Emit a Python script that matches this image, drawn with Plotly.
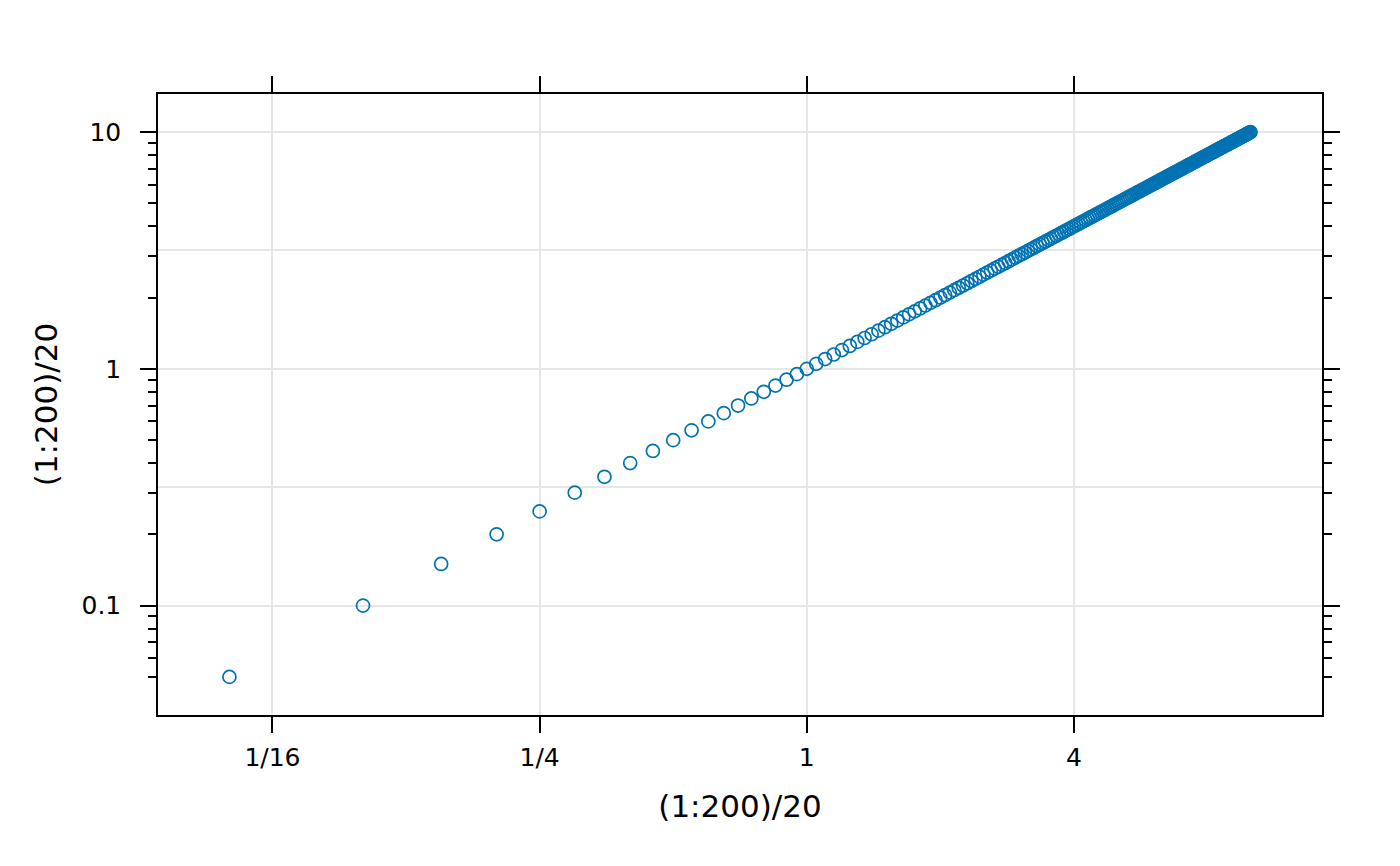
import plotly.graph_objects as go

# (1:200)/20 on both axes
x_vals = [
    0.05, 0.1, 0.15, 0.2, 0.25, 0.3, 0.35, 0.4, 0.45, 0.5, 0.55, 0.6, 0.65, 0.7, 0.75, 0.8, 0.85, 0.9, 0.95, 1.0,
    1.05, 1.1, 1.15, 1.2, 1.25, 1.3, 1.35, 1.4, 1.45, 1.5, 1.55, 1.6, 1.65, 1.7, 1.75, 1.8, 1.85, 1.9, 1.95, 2.0,
    2.05, 2.1, 2.15, 2.2, 2.25, 2.3, 2.35, 2.4, 2.45, 2.5, 2.55, 2.6, 2.65, 2.7, 2.75, 2.8, 2.85, 2.9, 2.95, 3.0,
    3.05, 3.1, 3.15, 3.2, 3.25, 3.3, 3.35, 3.4, 3.45, 3.5, 3.55, 3.6, 3.65, 3.7, 3.75, 3.8, 3.85, 3.9, 3.95, 4.0,
    4.05, 4.1, 4.15, 4.2, 4.25, 4.3, 4.35, 4.4, 4.45, 4.5, 4.55, 4.6, 4.65, 4.7, 4.75, 4.8, 4.85, 4.9, 4.95, 5.0,
    5.05, 5.1, 5.15, 5.2, 5.25, 5.3, 5.35, 5.4, 5.45, 5.5, 5.55, 5.6, 5.65, 5.7, 5.75, 5.8, 5.85, 5.9, 5.95, 6.0,
    6.05, 6.1, 6.15, 6.2, 6.25, 6.3, 6.35, 6.4, 6.45, 6.5, 6.55, 6.6, 6.65, 6.7, 6.75, 6.8, 6.85, 6.9, 6.95, 7.0,
    7.05, 7.1, 7.15, 7.2, 7.25, 7.3, 7.35, 7.4, 7.45, 7.5, 7.55, 7.6, 7.65, 7.7, 7.75, 7.8, 7.85, 7.9, 7.95, 8.0,
    8.05, 8.1, 8.15, 8.2, 8.25, 8.3, 8.35, 8.4, 8.45, 8.5, 8.55, 8.6, 8.65, 8.7, 8.75, 8.8, 8.85, 8.9, 8.95, 9.0,
    9.05, 9.1, 9.15, 9.2, 9.25, 9.3, 9.35, 9.4, 9.45, 9.5, 9.55, 9.6, 9.65, 9.7, 9.75, 9.8, 9.85, 9.9, 9.95, 10.0,
]
y_vals = list(x_vals)

x_tickvals = [1 / 16, 1 / 4, 1, 4]
x_ticktext = ["1/16", "1/4", "1", "4"]
y_tickvals = [0.1, 1, 10]
y_ticktext = ["0.1", "1", "10"]
y_minor_ticks = [0.05, 0.06, 0.07, 0.08, 0.09,
                 0.2, 0.3, 0.4, 0.5, 0.6, 0.7, 0.8, 0.9,
                 2, 3, 4, 5, 6, 7, 8, 9]
y_half_decades = [0.31623, 3.1623]

axis_range = [-1.462, 1.161]
grid_col = "#e6e6e6"
font_family = "DejaVu Sans"

fig = go.Figure()
fig.add_trace(go.Scatter(
    x=x_vals, y=y_vals, mode="markers",
    marker=dict(symbol="circle-open", size=13, color="#0072B2",
                line=dict(width=1.7, color="#0072B2")),
    showlegend=False, hoverinfo="x+y",
))
# invisible trace on the overlay axis that carries the minor y ticks
fig.add_trace(go.Scatter(
    x=[x_vals[0]], y=[y_vals[0]], yaxis="y2", mode="markers",
    marker=dict(opacity=0), showlegend=False, hoverinfo="skip",
))

fig.update_layout(
    width=1400, height=866,
    margin=dict(l=150, r=86, t=86, b=159),
    paper_bgcolor="white", plot_bgcolor="white",
    font=dict(family=font_family, color="black"),
    xaxis=dict(
        type="log", range=axis_range,
        tickmode="array", tickvals=x_tickvals, ticktext=x_ticktext,
        ticks="outside", ticklen=16, tickwidth=1.5, tickcolor="black",
        showline=True, linecolor="black", linewidth=1.5, mirror="ticks",
        showgrid=True, gridcolor=grid_col, gridwidth=1.5, zeroline=False,
        tickfont=dict(size=25), ticklabelstandoff=3,
        title=dict(text="(1:200)/20", font=dict(size=31), standoff=25),
    ),
    yaxis=dict(
        type="log", range=axis_range,
        tickmode="array", tickvals=y_tickvals, ticktext=y_ticktext,
        ticks="outside", ticklen=16, tickwidth=1.5, tickcolor="black",
        showline=True, linecolor="black", linewidth=1.5, mirror="ticks",
        showgrid=True, gridcolor=grid_col, gridwidth=1.5, zeroline=False,
        tickfont=dict(size=25), ticklabelstandoff=14,
        minor=dict(tickmode="array", tickvals=y_half_decades, ticks="",
                   showgrid=True, gridcolor=grid_col, gridwidth=1.5),
        title=dict(text="(1:200)/20", font=dict(size=31), standoff=15),
    ),
    yaxis2=dict(
        type="log", range=axis_range, overlaying="y", side="left", anchor="x",
        tickmode="array", tickvals=y_minor_ticks,
        ticks="outside", ticklen=9, tickwidth=1.5, tickcolor="black",
        showticklabels=False, showgrid=False, zeroline=False,
        showline=False, mirror="ticks",
    ),
)

fig.write_html("out.html")
